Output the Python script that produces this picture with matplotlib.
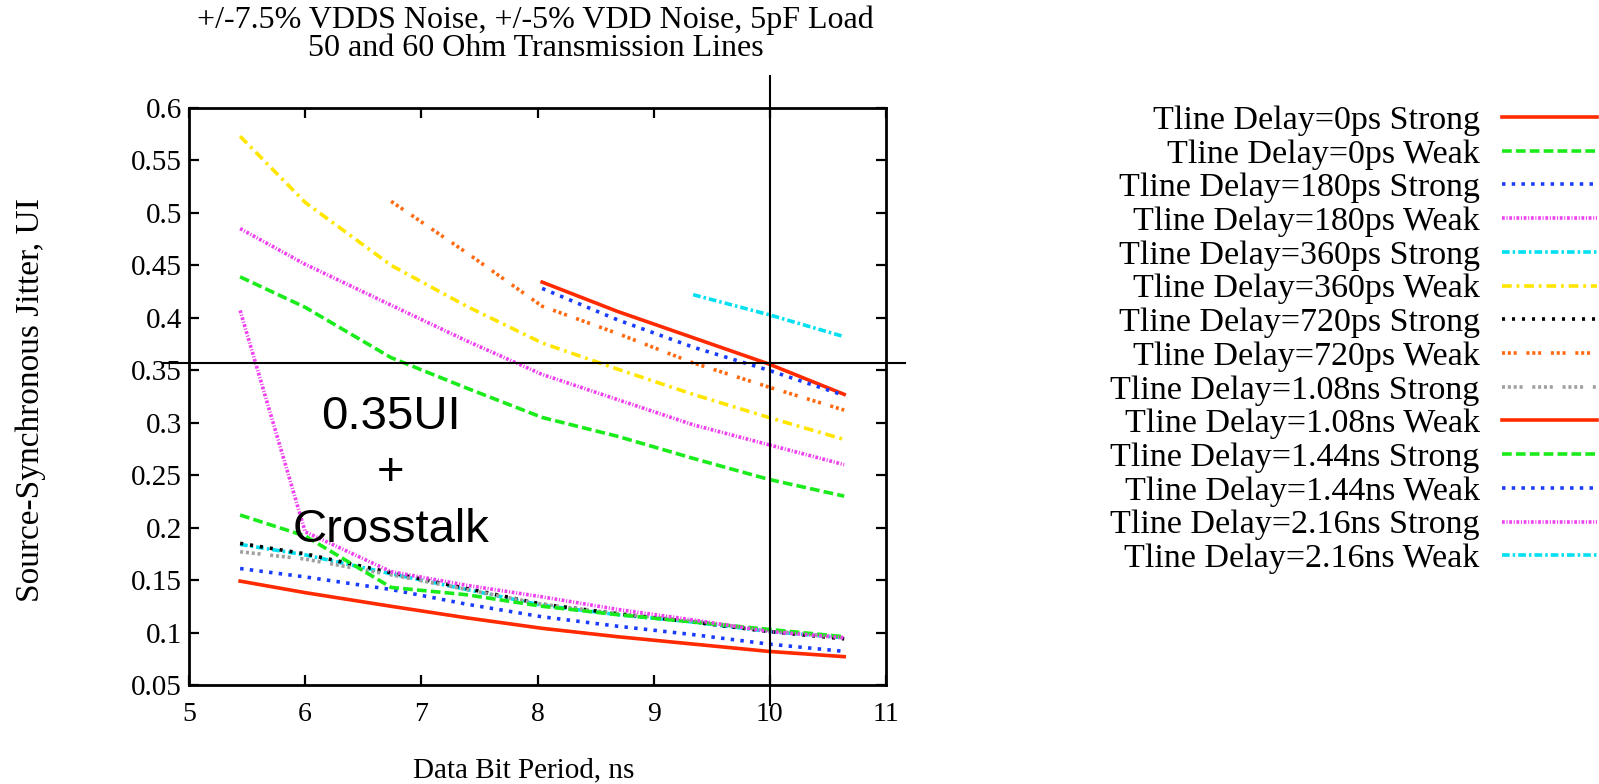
import numpy as np
import matplotlib
matplotlib.use("Agg")
import matplotlib.pyplot as plt

plt.rcParams["font.family"] = "Liberation Serif"
plt.rcParams["lines.scale_dashes"] = False

nan = np.nan

# data bit period, ns
period = [5.44, 6.0, 6.74, 7.39, 8.04, 8.69, 9.34, 9.99, 10.64]

# source-synchronous jitter, UI
d0_strong = [0.149, 0.138, 0.125, 0.114, 0.104, 0.096, 0.089, 0.082, 0.077]
d0_weak = [0.439, 0.410, 0.362, 0.333, 0.305, 0.287, 0.266, 0.246, 0.230]
d180_strong = [0.161, 0.153, 0.141, 0.127, 0.115, 0.106, 0.098, 0.089, 0.082]
d180_weak = [0.485, 0.451, 0.412, 0.378, 0.346, 0.322, 0.298, 0.279, 0.260]
d360_strong = [0.184, 0.174, 0.156, 0.141, 0.126, 0.117, 0.110, 0.101, 0.095]
d360_weak = [0.573, 0.510, 0.450, 0.411, 0.376, 0.351, 0.327, 0.305, 0.284]
d720_strong = [0.185, 0.175, 0.157, 0.142, 0.127, 0.118, 0.110, 0.101, 0.094]
d720_weak = [nan, nan, 0.511, 0.462, 0.411, 0.385, 0.357, 0.334, 0.312]
d1080_strong = [0.177, 0.170, 0.155, 0.141, 0.127, 0.118, 0.111, 0.102, 0.095]
d1080_weak = [nan, nan, nan, nan, 0.434, 0.406, 0.381, 0.356, 0.327]
d1440_strong = [0.212, 0.192, 0.143, 0.136, 0.125, 0.117, 0.110, 0.103, 0.096]
d1440_weak = [nan, nan, nan, nan, 0.428, 0.398, 0.372, 0.350, 0.326]
d2160_strong = [0.407, 0.196, 0.158, 0.145, 0.134, 0.122, 0.112, 0.101, 0.095]
d2160_weak = [nan, nan, nan, nan, nan, nan, 0.422, 0.403, 0.382]

labels = [
    "Tline Delay=0ps Strong", "Tline Delay=0ps Weak",
    "Tline Delay=180ps Strong", "Tline Delay=180ps Weak",
    "Tline Delay=360ps Strong", "Tline Delay=360ps Weak",
    "Tline Delay=720ps Strong", "Tline Delay=720ps Weak",
    "Tline Delay=1.08ns Strong", "Tline Delay=1.08ns Weak",
    "Tline Delay=1.44ns Strong", "Tline Delay=1.44ns Weak",
    "Tline Delay=2.16ns Strong", "Tline Delay=2.16ns Weak",
]
series = [d0_strong, d0_weak, d180_strong, d180_weak, d360_strong, d360_weak,
          d720_strong, d720_weak, d1080_strong, d1080_weak,
          d1440_strong, d1440_weak, d2160_strong, d2160_weak]

xticks = [5, 6, 7, 8, 9, 10, 11]
yticks = [0.05, 0.1, 0.15, 0.2, 0.25, 0.3, 0.35, 0.4, 0.45, 0.5, 0.55, 0.6]

# gnuplot-like line types, cycling after the 9th
red, green, blue, magenta = "#ff2a00", "#1aeb1a", "#1a3cff", "#f040f0"
cyan, yellow, black, orange, gray = "#00e0f0", "#ffe600", "#000000", "#ff6a10", "#a0a0a0"
solid = None
dashed = (7, 3)
dotted = (2.5, 4.5)
fine = (2, 1.2, 0.8, 1.2)
dashdot = (5.5, 2.2, 1.8, 2.2)
dashdot2 = (7, 3.5, 2, 3.5)
sparse = (2.2, 5)
triple = (2.2, 2, 2.2, 2, 2.2, 7)
quad = (2.2, 2, 2.2, 2, 2.2, 2, 2.2, 7)
styles = [(red, solid), (green, dashed), (blue, dotted), (magenta, fine),
          (cyan, dashdot), (yellow, dashdot2), (black, sparse), (orange, triple),
          (gray, quad)]
styles = styles + styles[:5]

fig = plt.figure(figsize=(15.99, 7.84), dpi=100)
ax = fig.add_axes([0.1182, 0.1263, 0.4359, 0.7360])

handles = []
for vals, lab, (col, dsh) in zip(series, labels, styles):
    line, = ax.plot(period, vals, color=col, lw=2.6, label=lab)
    if dsh is not None:
        line.set_dashes(dsh)
    handles.append(line)

ax.set_xlim(5, 11)
ax.set_ylim(0.05, 0.6)
ax.set_xticks(xticks)
ax.set_xticklabels([str(t) for t in xticks])
ax.set_yticks(yticks)
ax.set_yticklabels([f"{t:g}" for t in yticks])
ax.tick_params(direction="in", length=7, width=1.6, top=True, right=True)
ax.tick_params(axis="x", pad=12, labelsize=20)
ax.tick_params(axis="y", pad=5, labelsize=21)
for sp in ax.spines.values():
    sp.set_linewidth(2)

# 0.35 UI limit and 10 ns markers
ax.plot([4.78, 11.16], [0.3565, 0.3565], color="black", lw=1.5, clip_on=False)
ax.plot([10, 10], [0.031, 0.63], color="black", lw=1.5, clip_on=False)

for txt, y in [("0.35UI", 0.305), ("+", 0.252), ("Crosstalk", 0.198)]:
    ax.text(6.735, y, txt, fontsize=34, family="Liberation Sans",
            ha="center", va="center")

fig.text(0.335, 0.974, "+/-7.5% VDDS Noise, +/-5% VDD Noise, 5pF Load",
         fontsize=23, ha="center", va="center")
fig.text(0.335, 0.938, "50 and 60 Ohm Transmission Lines",
         fontsize=23, ha="center", va="center")
fig.text(0.3277, 0.018, "Data Bit Period, ns", fontsize=21, ha="center",
         va="center")
fig.text(0.0194, 0.49, "Source-Synchronous Jitter, UI", fontsize=24,
         rotation=90, ha="center", va="center")

fig.legend(handles, labels, loc="upper right", bbox_to_anchor=(0.9987, 0.866),
           frameon=False, markerfirst=False, fontsize=24.5, handlelength=2.8,
           handletextpad=0.65, labelspacing=0.085, borderpad=0, borderaxespad=0)

fig.savefig("out.png", dpi=100)
